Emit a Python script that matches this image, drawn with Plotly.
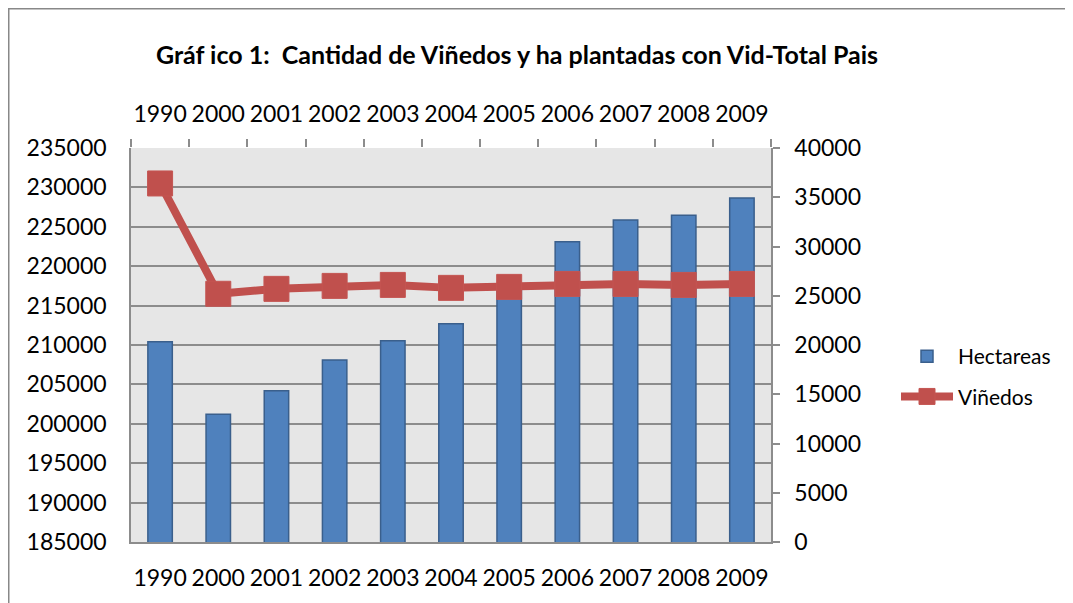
import plotly.graph_objects as go

years = ["1990", "2000", "2001", "2002", "2003", "2004", "2005", "2006", "2007", "2008", "2009"]
hectareas = [210400, 201200, 204200, 208100, 210550, 212700, 217000, 223100, 225850, 226450, 228650]
vinedos = [36400, 25200, 25700, 26000, 26100, 25800, 25900, 26200, 26200, 26100, 26200]

FONT = "Lato"
GRID = "#8c8c8c"

# the page body has an 8px margin: figure coordinates = page coordinates - 8
W, H = 1065, 595
PL, PR, PT, PB = 123, 763, 140, 534  # plot area in figure pixels
PW, PH = PR - PL, PB - PT

fig = go.Figure()
fig.add_trace(go.Bar(
    x=years, y=hectareas, name="Hectareas",
    marker=dict(color="#4F81BD", line=dict(color="#3A5F8C", width=1.5)),
    width=0.42, legendgroup="a",
))
fig.add_trace(go.Scatter(
    x=years, y=vinedos, name="Viñedos", yaxis="y2", mode="lines+markers",
    line=dict(color="#C0504D", width=8),
    marker=dict(symbol="square", size=25, color="#C0504D", line=dict(color="#C45552", width=1)),
    legendgroup="b",
))
# invisible trace to drive the top category axis
fig.add_trace(go.Scatter(x=years, y=vinedos, xaxis="x2", yaxis="y2", mode="none",
                         showlegend=False, hoverinfo="skip"))

fig.update_layout(
    width=W, height=H,
    margin=dict(l=PL, r=W - PR, t=PT, b=H - PB, autoexpand=False),
    paper_bgcolor="white", plot_bgcolor="#E6E6E6",
    font=dict(family=FONT, size=23, color="black"),
    title=dict(text="<b>Gráf ico 1:  Cantidad de Viñedos y ha plantadas con Vid-Total Pais</b>",
               xref="paper", x=(509 - PL) / PW, xanchor="center",
               yref="container", y=1 - 47 / H, yanchor="middle",
               font=dict(family=FONT, size=25, color="black")),
    xaxis=dict(type="category", categoryorder="array", categoryarray=years,
               range=[-0.5, 10.5], automargin=False, tickangle=0,
               showline=True, linecolor=GRID, linewidth=1.5, ticks="", showgrid=False,
               ticklabelstandoff=15, mirror=False),
    xaxis2=dict(type="category", categoryorder="array", categoryarray=years,
                range=[-0.5, 10.5], automargin=False, tickangle=0,
                overlaying="x", side="top", showline=False, showgrid=False,
                ticks="outside", tickson="boundaries", ticklen=8, tickcolor=GRID, tickwidth=1.5,
                ticklabelstandoff=20),
    yaxis=dict(range=[185000, 235000], dtick=5000, tickformat="d", automargin=False,
               showgrid=True, gridcolor=GRID, gridwidth=1.5,
               showline=True, linecolor=GRID, linewidth=1.5, ticks="", zeroline=False,
               ticklabelstandoff=18),
    yaxis2=dict(range=[0, 40000], dtick=5000, tickformat="d", automargin=False,
                overlaying="y", side="right", showgrid=False,
                showline=True, linecolor=GRID, linewidth=1.5, ticks="outside", ticklen=7,
                tickcolor=GRID, tickwidth=1.5, zeroline=False, ticklabelstandoff=10),
    legend=dict(x=(888 - PL) / PW, y=(PB - 328) / PH, xanchor="left", yanchor="top",
                font=dict(family=FONT, size=21, color="black"), bgcolor="rgba(0,0,0,0)",
                traceorder="grouped", tracegroupgap=10, itemwidth=52),
    bargap=0.58,
    showlegend=True,
)
# outer chart frame
fig.add_shape(type="rect", xref="paper", yref="paper",
              x0=(0.5 - PL) / PW, x1=2.0, y0=-0.5, y1=(PB - 0.5) / PH,
              line=dict(color="#888888", width=2), fillcolor="rgba(0,0,0,0)", layer="below")

fig.write_html("out.html")
